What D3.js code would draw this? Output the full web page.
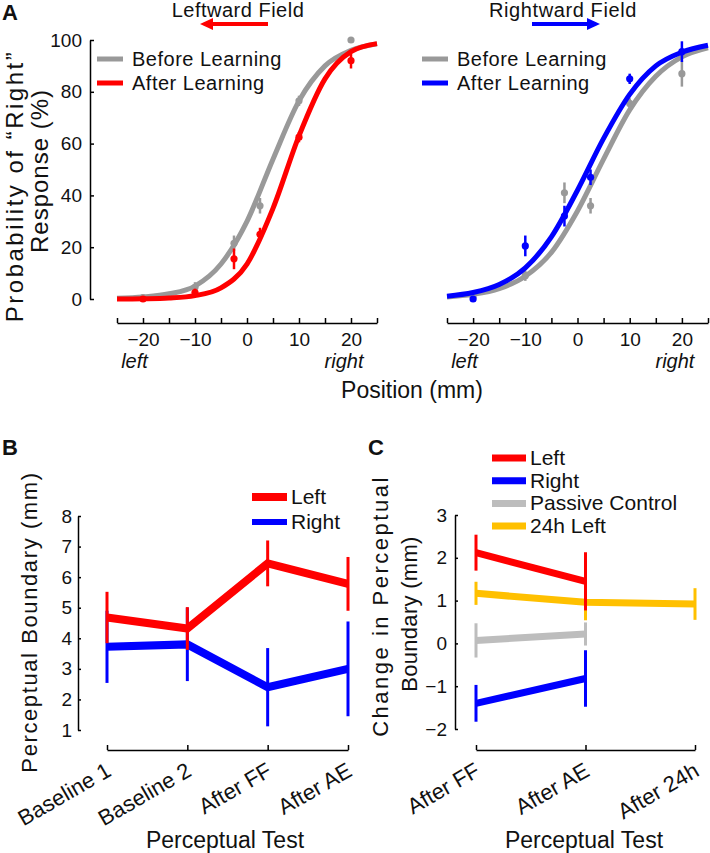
<!DOCTYPE html>
<html>
<head>
<meta charset="utf-8">
<script src="https://cdn.jsdelivr.net/npm/d3@7"></script>
<style>
body { margin: 0; background: #fff; }
text { font-family: "Liberation Sans", Arial, sans-serif; fill: #111; }
</style>
</head>
<body>
<svg id="fig" width="710" height="853"></svg>
<script>
// ---- panel A: psychometric curves
var fitX = [-25, -20, -15, -10, -5, 0, 5, 10, 15, 20, 25];
var leftBeforeFit = [0.3, 0.8, 2.0, 5.0, 13.5, 30, 54, 76.5, 90, 96, 98.5];
var leftAfterFit = [0, 0.1, 0.4, 1.3, 4.3, 13.5, 35, 63, 85, 95.5, 98.6];
var rightBeforeFit = [0.8, 1.8, 4, 8.8, 18, 34, 54, 73, 86, 93.5, 97];
var rightAfterFit = [1.1, 2.5, 5.6, 12, 24, 42, 62, 79, 90, 95.3, 98];

var dotX = [-20, -10, -2.5, 2.5, 10, 20];
var leftBefore = [0.5, 4.5, 21.5, 36, 76.5, 100];
var leftBeforeErr = [0.5, 2, 3, 3, 2, 1];
var leftAfter = [0, 2.5, 15.5, 25, 62.5, 92];
var leftAfterErr = [0.5, 1.5, 4, 2.5, 2, 3];
var rightBefore = [1, 9, 41, 36, 75.5, 87];
var rightBeforeErr = [0.5, 2, 4, 3, 2, 5];
var rightAfter = [0, 20.5, 32, 47, 85, 95.5];
var rightAfterErr = [0.5, 4, 4, 3, 2, 4];

var posTicks = [-25, -20, -15, -10, -5, 0, 5, 10, 15, 20, 25];
var probTicks = [0, 20, 40, 60, 80, 100];

// ---- panel B
var bCats = ["Baseline 1", "Baseline 2", "After FF", "After AE"];
var bLeft = [4.68, 4.32, 6.45, 5.78];
var bLeftErr = [0.84, 0.70, 0.75, 0.88];
var bRight = [3.72, 3.8, 2.4, 3.0];
var bRightErr = [1.18, 1.2, 1.28, 1.55];
var bTicks = [1, 2, 3, 4, 5, 6, 7, 8];

// ---- panel C
var cCats = ["After FF", "After AE", "After 24h"];
var cLeft = [2.12, 1.45];
var cLeftErr = [0.42, 0.68];
var cRight = [-1.4, -0.82];
var cRightErr = [0.43, 0.66];
var cPassive = [0.07, 0.22];
var cPassiveErr = [0.4, 0.27];
var c24h = [1.17, 0.96, 0.92];
var c24hErr = [0.27, 0.42, 0.37];
var cTicks = [-2, -1, 0, 1, 2, 3];

var RED = "#ff0000", BLUE = "#0000ff", GRAY = "#999999", LGRAY = "#bdbdbd", GOLD = "#ffc000";

var svg = d3.select("#fig");

function styleAxis(g, size) {
    g.attr("font-size", size);
    g.select(".domain").attr("stroke", "#000").attr("stroke-width", 1.5);
    g.selectAll(".tick line").attr("stroke", "#000").attr("stroke-width", 1.5);
}

function label(x, y, txt, size, opts) {
    opts = opts || {};
    var t = svg.append("text")
        .attr("x", x).attr("y", y)
        .attr("font-size", size)
        .attr("text-anchor", opts.anchor || "start")
        .text(txt);
    if (opts.bold) t.attr("font-weight", "bold");
    if (opts.italic) t.attr("font-style", "italic");
    if (opts.ls) t.attr("letter-spacing", opts.ls);
    return t;
}

function vlabel(x, y, txt, size, ls) {
    svg.append("text")
        .attr("transform", "translate(" + x + "," + y + ") rotate(-90)")
        .attr("font-size", size)
        .attr("text-anchor", "middle")
        .attr("letter-spacing", ls || 0)
        .text(txt);
}

var yA = d3.scaleLinear().domain([0, 100]).range([299, 40]);

function psychPanel(x0, x1, before, after, bDots, bErr, aDots, aErr, col, withAxis) {
    var x = d3.scaleLinear().domain([-25, 25]).range([x0, x1]);

    var gx = svg.append("g").attr("transform", "translate(0,323)")
        .call(d3.axisBottom(x).tickValues(posTicks)
            .tickFormat(function (d) { return (d % 10 === 0 && Math.abs(d) < 25) ? d3.format("d")(d) : ""; })
            .tickSizeInner(-5).tickSizeOuter(0).tickPadding(10));
    styleAxis(gx, 19);

    if (withAxis) {
        var gy = svg.append("g").attr("transform", "translate(90,0)")
            .call(d3.axisLeft(yA).tickValues(probTicks).tickSizeInner(-4).tickSizeOuter(0).tickPadding(8));
        styleAxis(gy, 19);
    }

    var line = d3.line().x(function (d, i) { return x(fitX[i]); })
        .y(function (d) { return yA(d); }).curve(d3.curveMonotoneX);

    function dots(vals, errs, c) {
        var g = svg.append("g");
        g.selectAll("line").data(vals).enter().append("line")
            .attr("x1", function (d, i) { return x(dotX[i]); })
            .attr("x2", function (d, i) { return x(dotX[i]); })
            .attr("y1", function (d, i) { return yA(d - errs[i]); })
            .attr("y2", function (d, i) { return yA(d + errs[i]); })
            .attr("stroke", c).attr("stroke-width", 2.5);
        g.selectAll("circle").data(vals).enter().append("circle")
            .attr("cx", function (d, i) { return x(dotX[i]); })
            .attr("cy", function (d) { return yA(d); })
            .attr("r", 3.6).attr("fill", c);
    }

    svg.append("path").datum(before).attr("d", line)
        .attr("fill", "none").attr("stroke", GRAY).attr("stroke-width", 5);
    dots(bDots, bErr, GRAY);
    svg.append("path").datum(after).attr("d", line)
        .attr("fill", "none").attr("stroke", col).attr("stroke-width", 5);
    dots(aDots, aErr, col);

    label(x(-24.2), 368, "left", 20, {italic: true});
    label(x(22.4), 368, "right", 20, {italic: true, anchor: "end"});
    return x;
}

psychPanel(117, 377, leftBeforeFit, leftAfterFit, leftBefore, leftBeforeErr, leftAfter, leftAfterErr, RED, true);
psychPanel(447, 708, rightBeforeFit, rightAfterFit, rightBefore, rightBeforeErr, rightAfter, rightAfterErr, BLUE, false);

// legends A
function legA(lx, col) {
    svg.append("line").attr("x1", lx).attr("x2", lx + 26).attr("y1", 59).attr("y2", 59)
        .attr("stroke", GRAY).attr("stroke-width", 5);
    svg.append("line").attr("x1", lx).attr("x2", lx + 26).attr("y1", 83).attr("y2", 83)
        .attr("stroke", col).attr("stroke-width", 5);
    label(lx + 35, 66, "Before Learning", 20, {ls: 0.5});
    label(lx + 35, 90, "After Learning", 20, {ls: 0.5});
}
legA(97, RED);
legA(422, BLUE);

// field arrows
label(238, 17, "Leftward Field", 20, {anchor: "middle", ls: 0.5});
label(563, 17, "Rightward Field", 20, {anchor: "middle", ls: 0.6});
svg.append("line").attr("x1", 211).attr("x2", 268).attr("y1", 24).attr("y2", 24)
    .attr("stroke", RED).attr("stroke-width", 4);
svg.append("path").attr("d", "M200,24 L213,18 L213,30 Z").attr("fill", RED);
svg.append("line").attr("x1", 532).attr("x2", 589).attr("y1", 24).attr("y2", 24)
    .attr("stroke", BLUE).attr("stroke-width", 4);
svg.append("path").attr("d", "M600,24 L587,18 L587,30 Z").attr("fill", BLUE);

label(2, 20, "A", 22, {bold: true});
vlabel(23, 186, "Probability of \u201cRight\u201d", 24, 2.5);
vlabel(48, 171, "Response (%)", 24, 1);
label(412, 398, "Position (mm)", 23, {anchor: "middle"});

// ---- generic category panel with error bars
function catPanel(cats, xr, ydom, yr, yTicks, axisX, series, tickPad) {
    var x = d3.scalePoint().domain(cats).range(xr);
    var y = d3.scaleLinear().domain(ydom).range(yr);

    var gx = svg.append("g").attr("transform", "translate(0,750)")
        .call(d3.axisBottom(x).tickSizeInner(-5).tickSizeOuter(0));
    styleAxis(gx, 22);
    gx.selectAll(".tick text")
        .attr("x", 0).attr("y", 0).attr("dy", 0)
        .attr("text-anchor", "end")
        .attr("transform", "translate(5,25) rotate(-30)");

    var gy = svg.append("g").attr("transform", "translate(" + axisX + ",0)")
        .call(d3.axisLeft(y).tickValues(yTicks).tickFormat(d3.format("d"))
            .tickSizeInner(-3).tickSizeOuter(0).tickPadding(tickPad));
    styleAxis(gy, 19);

    series.forEach(function (s) {
        var pts = s.vals.map(function (v, i) { return [x(cats[i]), y(v), y(v - s.err[i]), y(v + s.err[i])]; });
        svg.append("path").datum(pts)
            .attr("d", d3.line().x(function (d) { return d[0]; }).y(function (d) { return d[1]; }))
            .attr("fill", "none").attr("stroke", s.color).attr("stroke-width", s.w);
        svg.append("g").selectAll("line").data(pts).enter().append("line")
            .attr("x1", function (d) { return d[0]; }).attr("x2", function (d) { return d[0]; })
            .attr("y1", function (d) { return d[2]; }).attr("y2", function (d) { return d[3]; })
            .attr("stroke", s.color).attr("stroke-width", 3);
    });
}

// panel B
catPanel(bCats, [107, 348], [1, 8], [730, 516], bTicks, 78, [
    {vals: bRight, err: bRightErr, color: BLUE, w: 8},
    {vals: bLeft, err: bLeftErr, color: RED, w: 8}
], 6);
label(2, 455, "B", 22, {bold: true});
vlabel(37, 622, "Perceptual Boundary (mm)", 22, 1.6);
label(225, 848, "Perceptual Test", 23, {anchor: "middle"});

svg.append("line").attr("x1", 252).attr("x2", 287).attr("y1", 497).attr("y2", 497)
    .attr("stroke", RED).attr("stroke-width", 8);
svg.append("line").attr("x1", 252).attr("x2", 287).attr("y1", 522).attr("y2", 522)
    .attr("stroke", BLUE).attr("stroke-width", 6);
label(291, 504, "Left", 21);
label(291, 529, "Right", 21);

// panel C
catPanel(cCats, [476, 695], [-2, 3], [729, 515], cTicks, 455, [
    {vals: cPassive, err: cPassiveErr, color: LGRAY, w: 7},
    {vals: cRight, err: cRightErr, color: BLUE, w: 7},
    {vals: c24h, err: c24hErr, color: GOLD, w: 7},
    {vals: cLeft, err: cLeftErr, color: RED, w: 7}
], 8);
label(368, 455, "C", 22, {bold: true});
vlabel(388, 606, "Change in Perceptual", 22, 2.5);
vlabel(417, 614, "Boundary (mm)", 22, 0.3);
label(584, 848, "Perceptual Test", 23, {anchor: "middle"});

var cLeg = [["Left", RED], ["Right", BLUE], ["Passive Control", LGRAY], ["24h Left", GOLD]];
cLeg.forEach(function (d, i) {
    var ly = 458 + i * 22.7;
    svg.append("line").attr("x1", 492).attr("x2", 526).attr("y1", ly).attr("y2", ly)
        .attr("stroke", d[1]).attr("stroke-width", 7);
    label(530, ly + 7, d[0], 21);
});
</script>
</body>
</html>
